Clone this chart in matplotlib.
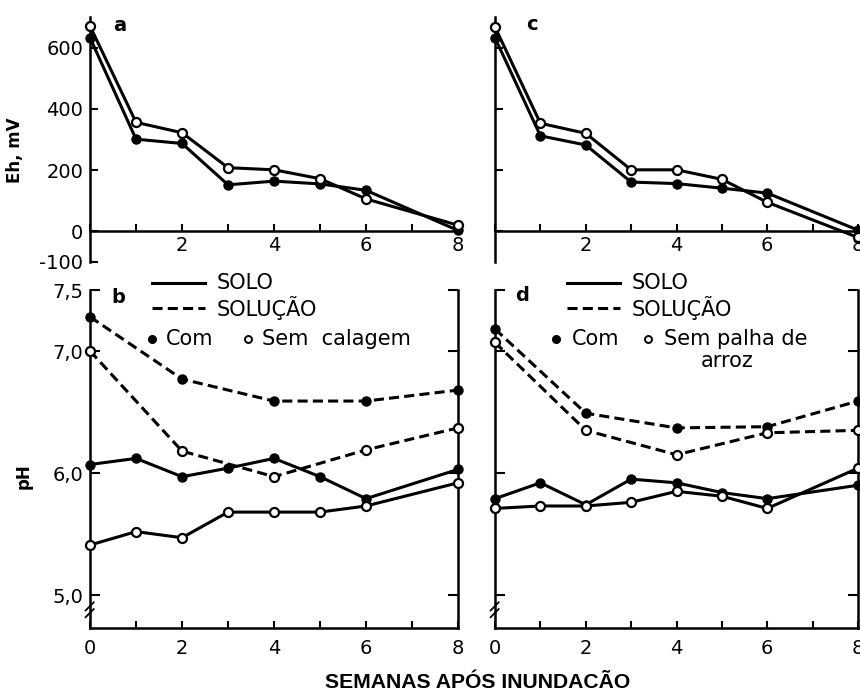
import matplotlib
matplotlib.use('Agg')
import matplotlib.pyplot as plt
from matplotlib.lines import Line2D

plt.rcParams['font.family'] = ['DejaVu Sans']

# ---------------- data ----------------
weeks = [0, 1, 2, 3, 4, 5, 6, 8]
weeks_sol = [0, 2, 4, 6, 8]

eh_a_com = [632, 301, 287, 152, 164, 155, 134, 3]
eh_a_sem = [670, 356, 322, 208, 201, 172, 106, 20]
eh_c_com = [632, 312, 282, 161, 156, 141, 125, 4]
eh_c_sem = [667, 353, 320, 201, 201, 170, 95, -20]

ph_b_sol_com = [7.28, 6.77, 6.59, 6.59, 6.68]
ph_b_sol_sem = [7.00, 6.18, 5.97, 6.19, 6.37]
ph_b_solo_com = [6.07, 6.12, 5.97, 6.04, 6.12, 5.97, 5.79, 6.03]
ph_b_solo_sem = [5.41, 5.52, 5.47, 5.68, 5.68, 5.68, 5.73, 5.92]

ph_d_sol_com = [7.18, 6.49, 6.37, 6.38, 6.59]
ph_d_sol_sem = [7.07, 6.35, 6.15, 6.33, 6.35]
ph_d_solo_com = [5.79, 5.92, 5.74, 5.95, 5.92, 5.84, 5.79, 5.90]
ph_d_solo_sem = [5.71, 5.73, 5.73, 5.76, 5.85, 5.81, 5.71, 6.04]

eh_ticks = [-100, 0, 200, 400, 600]
eh_ticklabels = ['-100', '0', '200', '400', '600']
ph_ticks = [5.0, 6.0, 7.0, 7.5]
ph_ticklabels = ['5,0', '6,0', '7,0', '7,5']
x_ticks = list(range(0, 9))
x_top_labels = ['', '', '2', '', '4', '', '6', '', '8']
x_bot_labels = ['0', '', '2', '', '4', '', '6', '', '8']

# ---------------- style ----------------
LW = 2.2
MS = 6.5
DASH = (3.3, 1.7)
TFS = 14

fig = plt.figure(figsize=(8.6, 6.94), dpi=100)

L1, W1 = 0.1047, 0.4279
L2, W2 = 0.5756, 0.4221
TB, TH = 0.6225, 0.353
BB, BH = 0.0951, 0.487

ax_a = fig.add_axes([L1, TB, W1, TH])
ax_c = fig.add_axes([L2, TB, W2, TH])
ax_b = fig.add_axes([L1, BB, W1, BH])
ax_d = fig.add_axes([L2, BB, W2, BH])


def filled(ax, x, y, ls='-'):
    ln, = ax.plot(x, y, color='black', lw=LW, ls=ls, marker='o', ms=MS,
                  mfc='black', mec='black', clip_on=False, zorder=3)
    if ls == '--':
        ln.set_dashes(DASH)


def opened(ax, x, y, ls='-'):
    ln, = ax.plot(x, y, color='black', lw=LW, ls=ls, marker='o', ms=MS,
                  mfc='white', mec='black', mew=1.6, clip_on=False, zorder=4)
    if ls == '--':
        ln.set_dashes(DASH)


# ---- top panels (Eh) ----
for ax, com, sem in [(ax_a, eh_a_com, eh_a_sem), (ax_c, eh_c_com, eh_c_sem)]:
    filled(ax, weeks, com)
    opened(ax, weeks, sem)
    ax.set_xlim(0, 8)
    ax.set_ylim(-100, 700)
    ax.spines['top'].set_visible(False)
    ax.spines['right'].set_visible(False)
    ax.spines['bottom'].set_position(('data', 0))
    for s in ax.spines.values():
        s.set_linewidth(1.8)
    ax.set_xticks(x_ticks)
    ax.set_xticklabels(x_top_labels, fontsize=TFS)
    ax.tick_params(axis='x', direction='in', length=5, width=1.5, pad=3)
    ax.tick_params(axis='y', direction='in', length=6, width=1.5, pad=5)

ax_a.set_yticks(eh_ticks)
ax_a.set_yticklabels(eh_ticklabels, fontsize=TFS)
ax_c.set_yticks([0, 200, 400, 600])
ax_c.set_yticklabels([])

# ---- bottom panels (pH) ----
for ax in (ax_b, ax_d):
    ax.set_xlim(0, 8)
    ax.set_ylim(4.73, 7.5)
    ax.spines['top'].set_visible(False)
    for s in ax.spines.values():
        s.set_linewidth(1.8)
    ax.set_xticks(x_ticks)
    ax.set_xticklabels(x_bot_labels, fontsize=TFS)
    ax.tick_params(axis='x', direction='in', length=5, width=1.5, pad=8)
    ax.tick_params(axis='y', direction='in', length=7, width=1.5, pad=5,
                   right=True)
    ax.set_yticks(ph_ticks)
    # axis break marks on left spine
    for dy in (0.0, 0.02):
        ax.plot([-0.012, 0.010], [0.032 + dy, 0.056 + dy], color='black',
                lw=1.3, transform=ax.transAxes, clip_on=False)

ax_b.set_yticklabels(ph_ticklabels, fontsize=TFS)
ax_d.set_yticklabels([])

filled(ax_b, weeks_sol, ph_b_sol_com, '--')
opened(ax_b, weeks_sol, ph_b_sol_sem, '--')
filled(ax_b, weeks, ph_b_solo_com)
opened(ax_b, weeks, ph_b_solo_sem)

filled(ax_d, weeks_sol, ph_d_sol_com, '--')
opened(ax_d, weeks_sol, ph_d_sol_sem, '--')
filled(ax_d, weeks, ph_d_solo_com)
opened(ax_d, weeks, ph_d_solo_sem)

# ---- legends (manual, in axes coords) ----
LFS = 15


def legend(ax, x0, x1, xt, xdot, xcom, xo, xsem, semtxt, extra=None):
    tr = ax.transAxes
    ax.add_line(Line2D([x0, x1], [1.021, 1.021], color='black', lw=LW,
                       transform=tr, clip_on=False))
    ax.text(xt, 1.021, 'SOLO', transform=tr, fontsize=LFS, va='center',
            ha='left')
    dl = Line2D([x0, x1], [0.946, 0.946], color='black', lw=LW, ls='--',
                transform=tr, clip_on=False)
    dl.set_dashes(DASH)
    ax.add_line(dl)
    ax.text(xt, 0.946, 'SOLUÇÃO', transform=tr, fontsize=LFS, va='center',
            ha='left')
    ax.plot([xdot], [0.855], marker='o', ms=5.5, color='black',
            transform=tr, clip_on=False)
    ax.text(xcom, 0.855, 'Com', transform=tr, fontsize=LFS, va='center',
            ha='left')
    ax.plot([xo], [0.855], marker='o', ms=5, mfc='white', mec='black',
            mew=1.4, transform=tr, clip_on=False)
    ax.text(xsem, 0.855, semtxt, transform=tr, fontsize=LFS, va='center',
            ha='left')
    if extra:
        ax.text(extra[0], extra[1], extra[2], transform=tr, fontsize=LFS,
                va='center', ha='left')


legend(ax_b, 0.168, 0.312, 0.345, 0.168, 0.205, 0.429, 0.466,
       'Sem  calagem')
legend(ax_d, 0.198, 0.344, 0.377, 0.168, 0.212, 0.421, 0.466,
       'Sem palha de', extra=(0.567, 0.79, 'arroz'))

# ---- panel letters ----
ax_a.text(0.062, 0.967, 'a', transform=ax_a.transAxes, fontsize=14,
          fontweight='bold', va='center', ha='left')
ax_c.text(0.085, 0.971, 'c', transform=ax_c.transAxes, fontsize=14,
          fontweight='bold', va='center', ha='left')
ax_b.text(0.058, 0.979, 'b', transform=ax_b.transAxes, fontsize=14,
          fontweight='bold', va='center', ha='left')
ax_d.text(0.055, 0.985, 'd', transform=ax_d.transAxes, fontsize=14,
          fontweight='bold', va='center', ha='left')

# ---- axis titles ----
fig.text(15 / 860, 1 - 150 / 694, 'Eh, mV', rotation=90, fontsize=12,
         fontweight='bold', ha='center', va='center')
fig.text(24 / 860, 1 - 476 / 694, 'pH', rotation=90, fontsize=12,
         fontweight='bold', ha='center', va='center')
fig.text(478 / 860, 1 - 683 / 694, 'SEMANAS APÓS INUNDACÃO', fontsize=15.2,
         fontweight='bold', ha='center', va='center',
         family=['Liberation Sans', 'DejaVu Sans'])

fig.savefig('out.png', dpi=100)
